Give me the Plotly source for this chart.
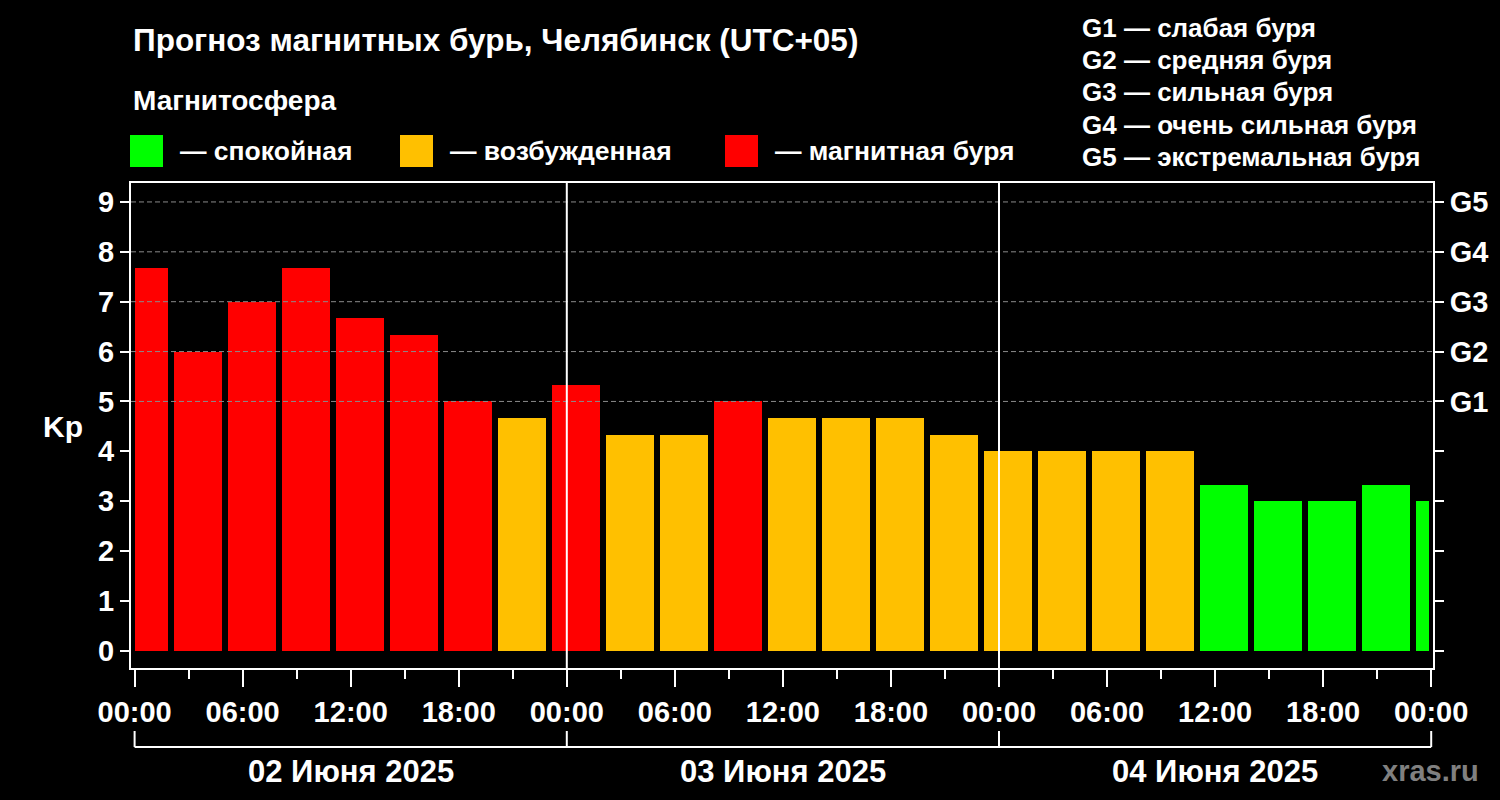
import plotly.graph_objects as go

# Kp forecast, 3-hour slots from 02.06.2025 00:00 (UTC+05)
kp_values = [7.67, 6.0, 7.0, 7.67, 6.67, 6.33, 5.0, 4.67, 5.33, 4.33, 4.33, 5.0, 4.67,
             4.67, 4.67, 4.33, 4.0, 4.0, 4.0, 4.0, 3.33, 3.0, 3.0, 3.33, 3.0]
slot_hours = [3 * i for i in range(len(kp_values))]

hour_ticks = [0, 6, 12, 18, 24, 30, 36, 42, 48, 54, 60, 66, 72]
hour_labels = ["00:00", "06:00", "12:00", "18:00"] * 3 + ["00:00"]
day_starts = [0, 24, 48, 72]
day_labels = ["02 Июня 2025", "03 Июня 2025", "04 Июня 2025"]

kp_ticks = [0, 1, 2, 3, 4, 5, 6, 7, 8, 9]
g_levels = [5, 6, 7, 8, 9]
g_names = ["G1", "G2", "G3", "G4", "G5"]
g_desc = ["G1 — слабая буря", "G2 — средняя буря", "G3 — сильная буря",
          "G4 — очень сильная буря", "G5 — экстремальная буря"]

state_names = ["— спокойная", "— возбужденная", "— магнитная буря"]
state_colors = ["#00ff00", "#ffc000", "#ff0000"]

FONT = "Liberation Sans, Arial, sans-serif"

# plot area in pixels
L, R, T, B = 131, 1433, 183, 668


def fx(px):
    return (px - L) / (R - L)


def fy(py):
    return (B - py) / (B - T)


def color_for(v):
    if v < 4:
        return state_colors[0]
    if v < 5:
        return state_colors[1]
    return state_colors[2]


def bold(size, color="white"):
    return dict(family=FONT, size=size, color=color, weight="bold")


# bars fill 8/9 of a slot, slot runs from -1h to +2h around the forecast time
centers, widths = [], []
for h in slot_hours:
    lo = max(h - 0.83, day_starts[0])
    hi = min(h + 1.85, day_starts[-1] - 0.15)
    centers.append((lo + hi) / 2)
    widths.append(hi - lo)

bars = go.Bar(x=centers, y=kp_values, width=widths,
              marker=dict(color=[color_for(v) for v in kp_values], line=dict(width=0)),
              showlegend=False, hoverinfo="y")
ghost = go.Scatter(x=[None], y=[None], yaxis="y2", showlegend=False)

fig = go.Figure(data=[bars, ghost])

shapes = []
for lv in g_levels:
    shapes.append(dict(type="line", xref="paper", yref="y", x0=0, x1=1, y0=lv, y1=lv,
                       line=dict(color="#8a8a8a", width=1, dash="5px,3px"), layer="above"))
for d in day_starts[1:-1]:
    shapes.append(dict(type="line", xref="x", yref="paper", x0=d, x1=d, y0=0, y1=1,
                       line=dict(color="white", width=2)))
# day bracket under the time axis
shapes.append(dict(type="line", xref="x", yref="paper", x0=day_starts[0], x1=day_starts[-1],
                   y0=fy(747), y1=fy(747), line=dict(color="white", width=2)))
for d in day_starts:
    shapes.append(dict(type="line", xref="x", yref="paper", x0=d, x1=d,
                       y0=fy(731), y1=fy(747), line=dict(color="white", width=2)))
# legend squares
for sx, c in zip([130, 400, 725], state_colors):
    shapes.append(dict(type="rect", xref="paper", yref="paper", x0=fx(sx), x1=fx(sx + 33),
                       y0=fy(135), y1=fy(167), fillcolor=c, line=dict(width=0)))

annotations = [
    dict(text="Прогноз магнитных бурь, Челябинск (UTC+05)", xref="paper", yref="paper",
         x=fx(131), y=fy(40), xanchor="left", yanchor="middle", showarrow=False,
         font=bold(31.5)),
    dict(text="Магнитосфера", xref="paper", yref="paper", x=fx(131), y=fy(101),
         xanchor="left", yanchor="middle", showarrow=False, font=bold(28)),
    dict(text="Kp", xref="paper", yref="y", x=fx(63), y=4.5, xanchor="center",
         yanchor="middle", showarrow=False, font=bold(30)),
    dict(text="xras.ru", xref="paper", yref="paper", x=fx(1481), y=fy(771),
         xanchor="right", yanchor="middle", showarrow=False, font=bold(29, "#808080")),
]
for tx, name in zip([178, 448, 773], state_names):
    annotations.append(dict(text=name, xref="paper", yref="paper", x=fx(tx), y=fy(151),
                            xanchor="left", yanchor="middle", showarrow=False, font=bold(26.5)))
for i, txt in enumerate(g_desc):
    annotations.append(dict(text=txt, xref="paper", yref="paper", x=fx(1080), y=fy(28 + 32.2 * i),
                            xanchor="left", yanchor="middle", showarrow=False, font=bold(26)))
for i, txt in enumerate(day_labels):
    annotations.append(dict(text=txt, xref="x", yref="paper",
                            x=(day_starts[i] + day_starts[i + 1]) / 2, y=fy(771),
                            xanchor="center", yanchor="middle", showarrow=False, font=bold(31)))

yrange = [-0.345, 9.38]
tick_font = bold(29)

fig.update_layout(
    width=1500, height=800, autosize=False,
    paper_bgcolor="black", plot_bgcolor="black",
    margin=dict(l=L, r=1500 - R, t=T, b=800 - B),
    bargap=0,
    xaxis=dict(range=[-0.2, 72.1], tickmode="array", tickvals=hour_ticks, ticktext=hour_labels,
               ticks="outside", ticklen=17, tickwidth=2, tickcolor="white",
               showline=True, linecolor="white", linewidth=2, mirror=True,
               showgrid=False, zeroline=False, tickfont=tick_font,
               minor=dict(tickmode="array", tickvals=slot_hours + [72], ticks="outside",
                          ticklen=9, tickwidth=2, tickcolor="white", showgrid=False)),
    yaxis=dict(range=yrange, tickmode="array", tickvals=kp_ticks,
               ticks="outside", ticklen=9, tickwidth=2, tickcolor="white",
               showline=True, linecolor="white", linewidth=2, mirror=True,
               showgrid=False, zeroline=False, tickfont=tick_font),
    yaxis2=dict(range=yrange, overlaying="y", side="right", tickmode="array",
                tickvals=kp_ticks, ticktext=[""] * 5 + g_names,
                ticks="outside", ticklen=9, tickwidth=2, tickcolor="white",
                showline=True, linecolor="white", linewidth=2,
                showgrid=False, zeroline=False, tickfont=tick_font),
    shapes=shapes,
    annotations=annotations,
    hovermode="closest",
)

fig.write_html("out.html", config={"displayModeBar": False},
               post_script="document.body.style.margin = '0';")
